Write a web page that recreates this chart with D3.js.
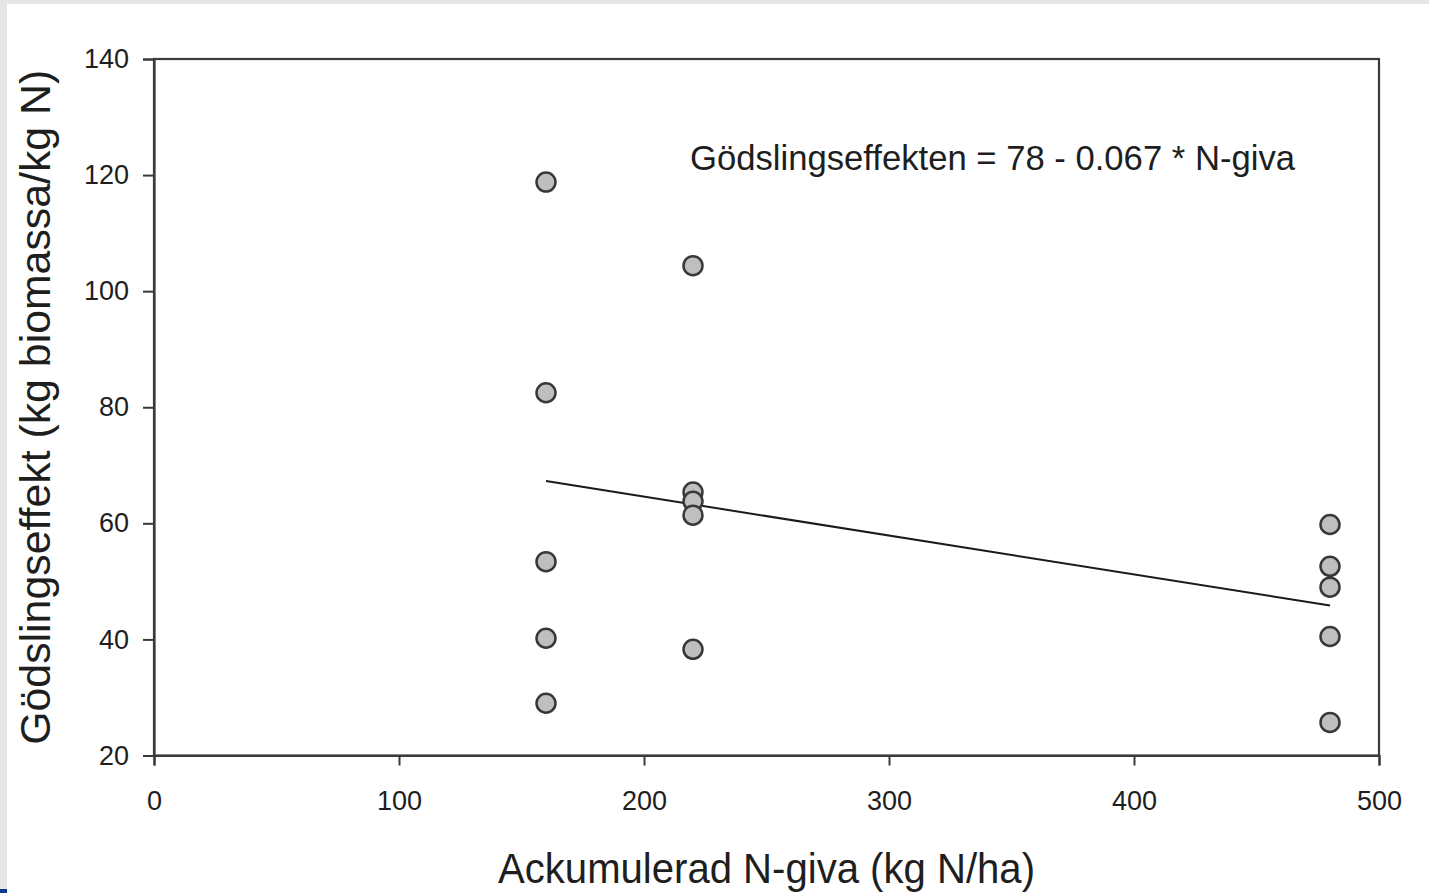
<!DOCTYPE html>
<html>
<head>
<meta charset="utf-8">
<script src="https://cdn.jsdelivr.net/npm/d3@7"></script>
<style>
  html, body { margin: 0; padding: 0; background: #fff; }
  svg { display: block; }
  text { font-family: "Liberation Sans", Arial, sans-serif; fill: #1e1e1e; }
</style>
</head>
<body>
<script>

// Data
var nGiva = [160, 160, 160, 160, 160, 220, 220, 220, 220, 220, 480, 480, 480, 480, 480];
var effekt = [118.8, 82.5, 53.4, 40.2, 29.0, 104.4, 65.4, 63.8, 61.4, 38.3, 59.8, 52.6, 49.0, 40.5, 25.7];

var xTicks = [0, 100, 200, 300, 400, 500];
var yTicks = [20, 40, 60, 80, 100, 120, 140];

// regression line: 78 - 0.067 * N
var fitIntercept = 78;
var fitSlope = -0.067;
var fitRange = [160, 480];

var yTitle = "Gödslingseffekt (kg biomassa/kg N)";
var xTitle = "Ackumulerad N-giva (kg N/ha)";
var equation = "Gödslingseffekten = 78 - 0.067 * N-giva";

var width = 1429;
var height = 893;
var margin = {top: 59, right: 50, bottom: 137, left: 154};

var svg = d3.select("body")
  .append("svg")
  .attr("width", width)
  .attr("height", height);

// page frame bits from the scanned image
svg.append("rect").attr("x", 0).attr("y", 0).attr("width", width).attr("height", 4).attr("fill", "#e6e6e6");
svg.append("rect").attr("x", 0).attr("y", 0).attr("width", 7).attr("height", height).attr("fill", "#e6e6e6");
svg.append("rect").attr("x", 0).attr("y", 889).attr("width", 7).attr("height", 4).attr("fill", "#0b3a8c");

var x = d3.scaleLinear()
  .domain([0, 500])
  .range([margin.left, width - margin.right]);

var y = d3.scaleLinear()
  .domain([20, 140])
  .range([height - margin.bottom - 0.5, margin.top]);

var axisColor = "#3a3a3a";

// frame (top and right)
svg.append("rect")
  .attr("x", x(0))
  .attr("y", y(140))
  .attr("width", x(500) - x(0))
  .attr("height", y(20) - y(140))
  .attr("fill", "none")
  .attr("stroke", axisColor)
  .attr("stroke-width", 2.2);

// axes
var xAxis = svg.append("g")
  .attr("transform", "translate(0," + y(20) + ")")
  .call(d3.axisBottom(x).tickValues(xTicks).tickSize(10).tickPadding(25));

var yAxis = svg.append("g")
  .attr("transform", "translate(" + x(0) + ",0)")
  .call(d3.axisLeft(y).tickValues(yTicks).tickSize(11).tickPadding(14));

[xAxis, yAxis].forEach(function(g) {
  g.select(".domain").attr("stroke", axisColor).attr("stroke-width", 2.2);
  g.selectAll(".tick line").attr("stroke", axisColor).attr("stroke-width", 2);
  g.selectAll(".tick text")
    .attr("fill", "#222")
    .style("font-family", "'Liberation Sans', Arial, sans-serif")
    .style("font-size", "27px");
});

// regression line
svg.append("line")
  .attr("x1", x(fitRange[0]))
  .attr("y1", y(fitIntercept + fitSlope * fitRange[0]))
  .attr("x2", x(fitRange[1]))
  .attr("y2", y(fitIntercept + fitSlope * fitRange[1]))
  .attr("stroke", "#1a1a1a")
  .attr("stroke-width", 2);

// points
svg.selectAll("circle.pt")
  .data(nGiva.map(function(d, i) { return {n: d, e: effekt[i]}; }))
  .enter()
  .append("circle")
  .attr("class", "pt")
  .attr("cx", function(d) { return x(d.n); })
  .attr("cy", function(d) { return y(d.e); })
  .attr("r", 9.5)
  .attr("fill", "#bfbfbf")
  .attr("stroke", "#383838")
  .attr("stroke-width", 2.5);

// equation
svg.append("text")
  .attr("x", 690)
  .attr("y", 170)
  .attr("textLength", 605)
  .attr("lengthAdjust", "spacingAndGlyphs")
  .style("font-size", "35px")
  .text(equation);

// axis titles
svg.append("text")
  .attr("x", (x(0) + x(500)) / 2)
  .attr("y", 883)
  .attr("text-anchor", "middle")
  .attr("textLength", 537)
  .attr("lengthAdjust", "spacingAndGlyphs")
  .style("font-size", "42px")
  .text(xTitle);

svg.append("text")
  .attr("transform", "translate(50," + ((y(20) + y(140)) / 2) + ") rotate(-90)")
  .attr("text-anchor", "middle")
  .attr("textLength", 675)
  .attr("lengthAdjust", "spacingAndGlyphs")
  .style("font-size", "42px")
  .text(yTitle);

</script>
</body>
</html>
